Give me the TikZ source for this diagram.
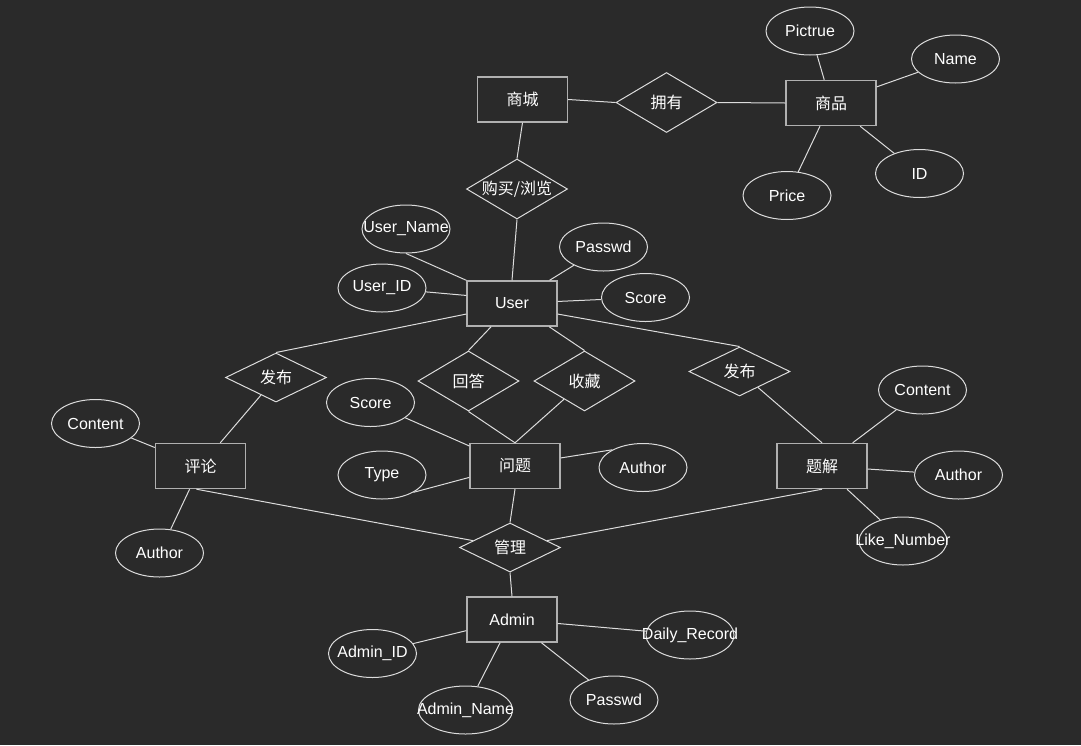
\documentclass[tikz,border=0pt]{standalone}
\usepackage{fontspec}
\setmainfont{Liberation Sans}
\newfontfamily\cjk{Noto Sans CJK SC}
\usepackage{tikz}
\usetikzlibrary{shapes.geometric}
\definecolor{FondoER}{HTML}{2A2A2A}
\definecolor{BordeER}{HTML}{B0B0B0}
\definecolor{LineaER}{HTML}{DCDCDC}
\newcommand{\lbl}[1]{\makebox[0pt]{#1}}

\begin{document}
\begin{tikzpicture}[x=1pt,y=-1pt,
    every node/.style={text=white,font=\fontsize{16}{19}\selectfont},
    entidad/.style={rectangle,draw=BordeER,fill=FondoER,line width=1.4pt,
      minimum width=90,minimum height=45,inner sep=0},
    relacion/.style={diamond,draw=LineaER,fill=FondoER,line width=1pt,
      minimum width=101,minimum height=60,inner sep=0},
    relbaja/.style={relacion,minimum height=49},
    atributo/.style={ellipse,draw=LineaER,fill=FondoER,line width=1pt,
      minimum width=88,minimum height=48,inner sep=0},
    enlace/.style={draw=LineaER,line width=1pt}]
  \fill[FondoER] (0,0) rectangle (1081,745);
  % entidades
  \node[entidad] (shangcheng) at (522.5,99.5) {\lbl{\cjk 商城}};
  \node[entidad] (shangpin) at (831,103) {\lbl{\cjk 商品}};
  \node[entidad] (user) at (512,303.5) {\lbl{User}};
  \node[entidad] (pinglun) at (200.5,466) {\lbl{\cjk 评论}};
  \node[entidad] (wenti) at (515,466) {\lbl{\cjk 问题}};
  \node[entidad] (tijie) at (822,466) {\lbl{\cjk 题解}};
  \node[entidad] (admin) at (512,619.5) {\lbl{Admin}};
  % relaciones
  \node[relacion] (yongyou) at (666.5,102.5) {\lbl{\cjk 拥有}};
  \node[relacion] (goumai) at (517,189) {\lbl{\cjk 购买/浏览}};
  \node[relbaja] (fabuA) at (276,377.5) {\lbl{\cjk 发布}};
  \node[relacion] (huida) at (468.5,381) {\lbl{\cjk 回答}};
  \node[relacion] (shoucang) at (584.5,381) {\lbl{\cjk 收藏}};
  \node[relbaja] (fabuB) at (739.5,371.5) {\lbl{\cjk 发布}};
  \node[relbaja] (guanli) at (510,547.5) {\lbl{\cjk 管理}};
  % atributos de shangpin
  \node[atributo] (spPic) at (810,31) {\lbl{Pictrue}};
  \node[atributo] (spName) at (955.5,59) {\lbl{Name}};
  \node[atributo] (spID) at (919.5,173.5) {\lbl{ID}};
  \node[atributo] (spPrice) at (787,195.5) {\lbl{Price}};
  % atributos de user
  \node[atributo] (uName) at (406,229) {\lbl{User\_Name}};
  \node[atributo] (uID) at (382,288) {\lbl{User\_ID}};
  \node[atributo] (uPass) at (603.5,247) {\lbl{Passwd}};
  \node[atributo] (uScore) at (645.5,297.5) {\lbl{Score}};
  % atributos de pinglun, wenti, tijie
  \node[atributo] (plContent) at (95.5,423.5) {\lbl{Content}};
  \node[atributo] (plAuthor) at (159.5,553) {\lbl{Author}};
  \node[atributo] (wtScore) at (370.5,402.5) {\lbl{Score}};
  \node[atributo] (wtType) at (382,475) {\lbl{Type}};
  \node[atributo] (wtAuthor) at (643,467.5) {\lbl{Author}};
  \node[atributo] (tjContent) at (922.5,390) {\lbl{Content}};
  \node[atributo] (tjAuthor) at (958.5,475) {\lbl{Author}};
  \node[atributo] (tjLike) at (903,541) {\lbl{Like\_Number}};
  % atributos de admin
  \node[atributo] (adID) at (372.5,653.5) {\lbl{Admin\_ID}};
  \node[atributo,minimum width=94] (adName) at (465.5,710) {\lbl{Admin\_Name}};
  \node[atributo] (adPass) at (614,700) {\lbl{Passwd}};
  \node[atributo] (adRecord) at (690,635) {\lbl{Daily\_Record}};
  % enlaces
  \draw[enlace] (shangcheng.south) -- (goumai.north);
  \draw[enlace] (shangcheng.east) -- (yongyou.west);
  \draw[enlace] (yongyou.east) -- (shangpin.west);
  \foreach \a in {spPic,spName,spID,spPrice}
    \draw[enlace] (shangpin) -- (\a);
  \draw[enlace] (goumai.south) -- (user.north);
  \draw[enlace] (uName.south) -- (user.north west);
  \draw[enlace] (uID) -- (user.170);
  \draw[enlace] (uPass) -- (user);
  \draw[enlace] (uScore) -- (user);
  \draw[enlace] (user.193) -- (fabuA.north);
  \draw[enlace] (user.228) -- (huida.north);
  \draw[enlace] (user.328) -- (shoucang.north);
  \draw[enlace] (user.347) -- (fabuB.north);
  \draw[enlace] (pinglun) -- (fabuA);
  \draw[enlace] (pinglun) -- (plContent);
  \draw[enlace] (pinglun) -- (plAuthor);
  \draw[enlace] (huida.south) -- (wenti.north);
  \draw[enlace] (wenti.north) -- (shoucang);
  \draw[enlace] (wtScore) -- (wenti);
  \draw[enlace] (wtType.south east) -- (wenti.194);
  \draw[enlace] (wenti.10) -- (wtAuthor.150);
  \draw[enlace] (tijie.north) -- (fabuB);
  \foreach \a in {tjContent,tjAuthor,tjLike}
    \draw[enlace] (tijie) -- (\a);
  \draw[enlace] (wenti.south) -- (guanli.north);
  \draw[enlace] (pinglun.260) -- (guanli);
  \draw[enlace] (tijie.south) -- (guanli);
  \draw[enlace] (guanli.south) -- (admin.north);
  \foreach \a in {adID,adName,adPass,adRecord}
    \draw[enlace] (admin) -- (\a);
\end{tikzpicture}
\end{document}
